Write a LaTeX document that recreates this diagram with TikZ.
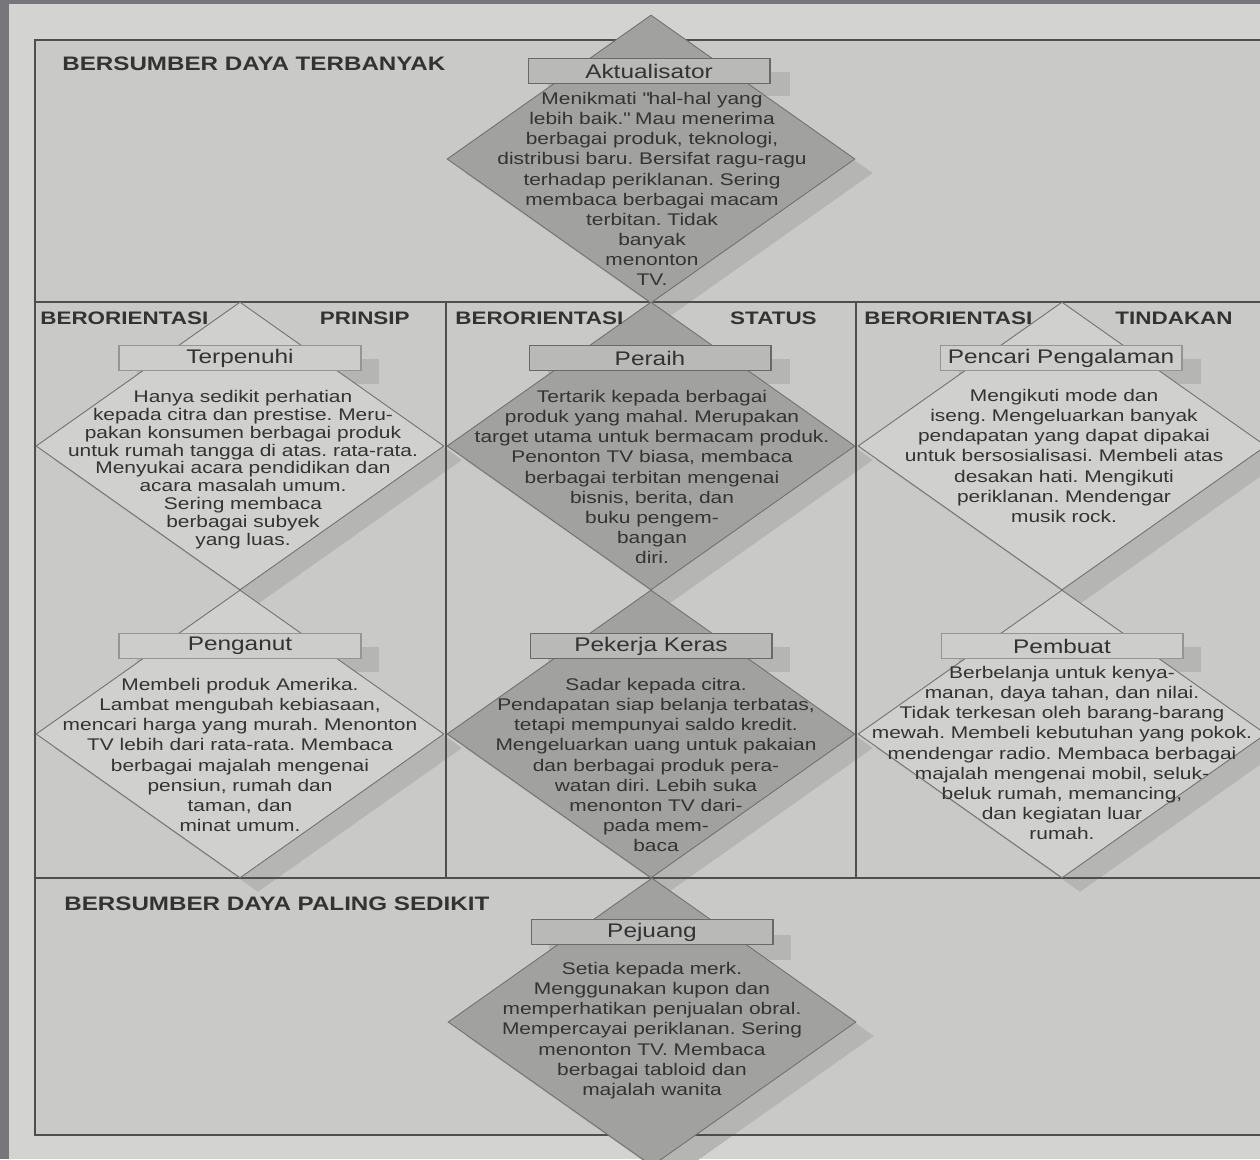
\documentclass[tikz,border=0pt]{standalone}
\usepackage{fontspec}
\setmainfont{Liberation Sans}[FakeStretch=1.24]
\usetikzlibrary{shapes.geometric,positioning}
\frenchspacing

\definecolor{paper}{HTML}{D3D3D1}
\definecolor{panel}{HTML}{C9C9C7}
\definecolor{scanedge}{HTML}{77767B}
\definecolor{ink}{HTML}{333333}
\definecolor{rule}{HTML}{4E4E4E}
\definecolor{dkfill}{HTML}{A1A1A0}
\definecolor{ltfill}{HTML}{D0D0CE}
\definecolor{shade}{HTML}{B5B5B4}
\definecolor{dkbox}{HTML}{B9B9B8}
\definecolor{ltbox}{HTML}{CDCDCB}

\begin{document}
\begin{tikzpicture}[x=0.02cm, y=-0.02cm,
	every node/.style={text=ink},
	dkdiam/.style={diamond, draw=rule!80, line width=0.5pt, fill=dkfill, minimum width=8.16cm, minimum height=5.76cm, inner sep=0pt},
	ltdiam/.style={dkdiam, fill=ltfill},
	shadediam/.style={dkdiam, draw=none, fill=shade},
	dklbl/.style={draw=rule!85, line width=0.6pt, fill=dkbox, minimum width=4.84cm, minimum height=0.5cm, inner sep=0pt, font=\fontsize{11.2}{12}\selectfont},
	ltlbl/.style={dklbl, draw=rule!60, fill=ltbox},
	lblshade/.style={fill=shade, minimum width=4.84cm, minimum height=0.5cm, inner sep=0pt},
	desc/.style={align=center, inner sep=0pt, anchor=north, font=\fontsize{9.6}{11.45}\selectfont},
	band/.style={anchor=west, inner sep=0pt, font=\fontsize{11.1}{12}\bfseries},
	orient/.style={inner sep=0pt, font=\fontsize{10.3}{12}\bfseries}]

	\useasboundingbox (0,0) rectangle (1260,1159);
	\clip (0,0) rectangle (1260,1159);
	\fill[paper] (0,0) rectangle (1260,1159);
	\fill[scanedge] (0,0) rectangle (9,1159);
	\fill[scanedge] (0,0) rectangle (1260,4);
	\fill[panel] (35,40) rectangle (1270,1135);

	% shadows of the diamonds and of the name boxes
	\foreach \cx/\cy in {651/159, 240/446, 651/446, 1062/446, 240/734, 651/734, 1062/734, 652/1022}{
		\node[shadediam] at (\cx+18,\cy+14) {};
		\node[lblshade] at (\cx+18,\cy-75) {};
	}

	% frame
	\draw[rule, line width=1.1pt] (1270,40) -- (35,40) -- (35,1135) -- (1270,1135);
	\draw[rule, line width=1.1pt] (35,302) -- (1270,302) (35,878) -- (1270,878);
	\draw[rule, line width=1.1pt] (446,302) -- (446,878) (856,302) -- (856,878);

	% segments
	\node[dkdiam] (akt) at (651,159) {};
	\node[ltdiam] (terpenuhi) at (240,446) {};
	\node[dkdiam] (peraih) at (651,446) {};
	\node[ltdiam] (pencari) at (1062,446) {};
	\node[ltdiam] (penganut) at (240,734) {};
	\node[dkdiam] (pekerja) at (651,734) {};
	\node[ltdiam] (pembuat) at (1062,734) {};
	\node[dkdiam] (pejuang) at (652,1022) {};

	\node[dklbl] (akt-lbl) at (649,71) {Aktualisator};
	\node[ltlbl] (terpenuhi-lbl) at (240,358) {Terpenuhi};
	\node[dklbl] (peraih-lbl) at (650,358) {Peraih};
	\node[ltlbl] (pencari-lbl) at (1061,358) {Pencari Pengalaman};
	\node[ltlbl] (penganut-lbl) at (240,646) {Penganut};
	\node[dklbl] (pekerja-lbl) at (651,646) {Pekerja Keras};
	\node[ltlbl] (pembuat-lbl) at (1062,646) {Pembuat};
	\node[dklbl] (pejuang-lbl) at (652,932) {Pejuang};

	\node[desc] (akt-txt) at (652,92) {Menikmati \textquotedbl hal-hal yang\\ lebih baik.\textquotedbl\ Mau menerima\\ berbagai produk, teknologi,\\ distribusi baru. Bersifat ragu-ragu\\ terhadap periklanan. Sering\\ membaca berbagai macam\\ terbitan. Tidak\\ banyak\\ menonton\\ TV.};
	\node[desc, font=\fontsize{9.6}{10.15}\selectfont] (terpenuhi-txt) at (243,390) {Hanya sedikit perhatian\\ kepada citra dan prestise. Meru-\\ pakan konsumen berbagai produk\\ untuk rumah tangga di atas. rata-rata.\\ Menyukai acara pendidikan dan\\ acara masalah umum.\\ Sering membaca\\ berbagai subyek\\ yang luas.};
	\node[desc] (peraih-txt) at (652,390) {Tertarik kepada berbagai\\ produk yang mahal. Merupakan\\ target utama untuk bermacam produk.\\ Penonton TV biasa, membaca\\ berbagai terbitan mengenai\\ bisnis, berita, dan\\ buku pengem-\\ bangan\\ diri.};
	\node[desc] (pencari-txt) at (1064,389) {Mengikuti mode dan\\ iseng. Mengeluarkan banyak\\ pendapatan yang dapat dipakai\\ untuk bersosialisasi. Membeli atas\\ desakan hati. Mengikuti\\ periklanan. Mendengar\\ musik rock.};
	\node[desc] (penganut-txt) at (240,678) {Membeli produk Amerika.\\ Lambat mengubah kebiasaan,\\ mencari harga yang murah. Menonton\\ TV lebih dari rata-rata. Membaca\\ berbagai majalah mengenai\\ pensiun, rumah dan\\ taman, dan\\ minat umum.};
	\node[desc] (pekerja-txt) at (656,678) {Sadar kepada citra.\\ Pendapatan siap belanja terbatas,\\ tetapi mempunyai saldo kredit.\\ Mengeluarkan uang untuk pakaian\\ dan berbagai produk pera-\\ watan diri. Lebih suka\\ menonton TV dari-\\ pada mem-\\ baca};
	\node[desc] (pembuat-txt) at (1062,666) {Berbelanja untuk kenya-\\ manan, daya tahan, dan nilai.\\ Tidak terkesan oleh barang-barang\\ mewah. Membeli kebutuhan yang pokok.\\ mendengar radio. Membaca berbagai\\ majalah mengenai mobil, seluk-\\ beluk rumah, memancing,\\ dan kegiatan luar\\ rumah.};
	\node[desc] (pejuang-txt) at (652,962) {Setia kepada merk.\\ Menggunakan kupon dan\\ memperhatikan penjualan obral.\\ Mempercayai periklanan. Sering\\ menonton TV. Membaca\\ berbagai tabloid dan\\ majalah wanita};

	% headings
	\node[band] (top-band) at (62,64) {BERSUMBER DAYA TERBANYAK};
	\node[band] (low-band) at (64,904) {BERSUMBER DAYA PALING SEDIKIT};
	\node[orient, anchor=west] (prinsip-l) at (40,318) {BERORIENTASI};
	\node[orient, anchor=east] (prinsip-r) at (410,318) {PRINSIP};
	\node[orient, anchor=west] (status-l) at (455,318) {BERORIENTASI};
	\node[orient, anchor=east] (status-r) at (817,318) {STATUS};
	\node[orient, anchor=west] (tindakan-l) at (864,318) {BERORIENTASI};
	\node[orient, anchor=east] (tindakan-r) at (1233,318) {TINDAKAN};

\end{tikzpicture}
\end{document}
